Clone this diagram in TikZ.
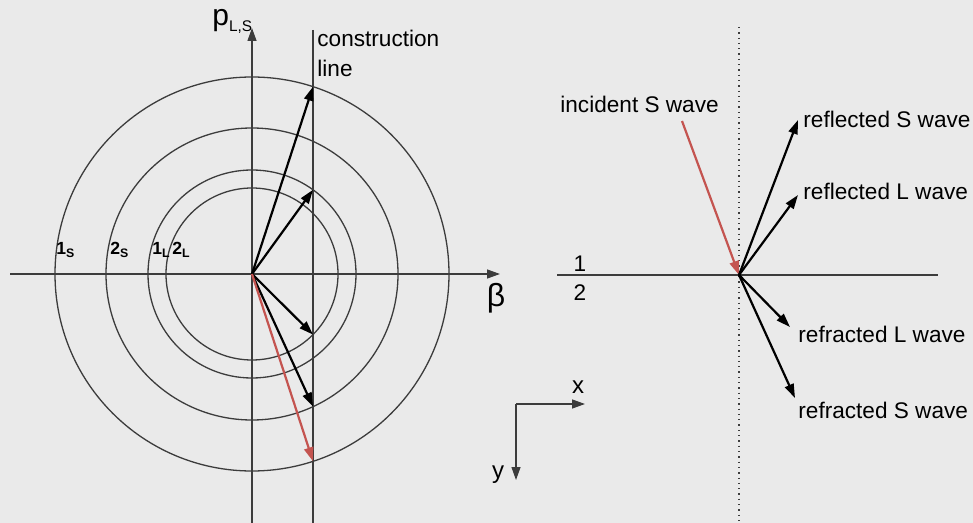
\documentclass[tikz,border=0pt]{standalone}
\usepackage{fontspec}
\setmainfont{Liberation Sans}
\usetikzlibrary{arrows.meta, positioning}
\definecolor{sfondo}{RGB}{234,234,234}
\definecolor{rosso}{RGB}{196,84,80}
\definecolor{grigio}{RGB}{60,60,60}

\begin{document}
\begin{tikzpicture}
        [x=0.5pt, y=-0.5pt,
        asse/.style={grigio, line width=0.65pt},
        punta/.style={-{Triangle[length=6.5pt,width=4.5pt]}},
        onda/.style={-{Triangle[length=7pt,width=4.6pt]}, line width=1.1pt},
        etichetta/.style={inner sep=0pt, font=\fontsize{11.3}{15}\selectfont},
        numero/.style={inner sep=0pt, anchor=base west, font=\bfseries\fontsize{8.8}{10}\selectfont}]
        %sfondo
            \fill[sfondo] (0,0) rectangle (973,523);
            \useasboundingbox (0,0) rectangle (973,523);
        %disegno cerchi
            \coordinate (O) at (252,274);
            \foreach \r in {197,146,104,86}
                \draw[asse] (O) circle (\r);
        %disegno assi
            \draw[asse, punta] (10,274) -- (500,274);
            \draw[asse, punta] (252,523) -- (252,28);
            \node (beta) at (496,298) {\fontsize{16}{16}\selectfont β};
            \node (p) [anchor=base west, inner sep=0pt] at (212,25.6)
                {{\fontsize{15}{15}\selectfont p}\raisebox{-3pt}{\fontsize{7.7}{8}\selectfont L,S}};
        %linea di costruzione
            \draw[asse] (313,30) -- (313,523);
            \node (costr) [etichetta, anchor=north west, align=left] at (317,30) {construction\\line};
        %label cerchi
            \node (n1S) [numero] at (56,255) {1\textsubscript{S}};
            \node (n2S) [numero] at (110,255) {2\textsubscript{S}};
            \node (n1L) [numero] at (152,255) {1\textsubscript{L}};
            \node (n2L) [numero] at (172,255) {2\textsubscript{L}};
        %vettori d'onda
            \coordinate (rS1) at (313,86.7);
            \coordinate (rL1) at (313,189.8);
            \coordinate (tL1) at (313,334.6);
            \coordinate (tS1) at (313,406.6);
            \coordinate (iS1) at (313,461.3);
            \draw[onda] (O) -- (rS1);
            \draw[onda] (O) -- (rL1);
            \draw[onda] (O) -- (tL1);
            \draw[onda] (O) -- (tS1);
            \draw[onda, rosso] (O) -- (iS1);

        %interfaccia
            \coordinate (P) at (739,275);
            \draw[asse] (557,275) -- (938,275);
            \draw[asse, dotted] (739,27) -- (739,523);
            \node (m1) [etichetta, anchor=base] at (580,272) {1};
            \node (m2) [etichetta, anchor=base] at (580,300) {2};
        %onde
            \coordinate (iS2) at (682,121);
            \coordinate (rS2) at (798,120);
            \coordinate (rL2) at (798,195);
            \coordinate (tL2) at (790,327);
            \coordinate (tS2) at (795,398);
            \draw[onda, rosso] (iS2) -- (P);
            \draw[onda] (P) -- (rS2);
            \draw[onda] (P) -- (rL2);
            \draw[onda] (P) -- (tL2);
            \draw[onda] (P) -- (tS2);
        %label onde
            \node (liS) [etichetta, anchor=base west] at (560,113) {incident S wave};
            \node (lrS) [etichetta, anchor=base west] at (803,127.5) {reflected S wave};
            \node (lrL) [etichetta, anchor=base west] at (803,200) {reflected L wave};
            \node (ltL) [etichetta, anchor=base west] at (798,343) {refracted L wave};
            \node (ltS) [etichetta, anchor=base west] at (798,418) {refracted S wave};
        %sistema x y
            \coordinate (xy) at (516,404);
            \coordinate (xx) at (585,404);
            \coordinate (yy) at (516,480);
            \draw[asse, punta] (xy) -- (xx);
            \draw[asse, punta] (xy) -- (yy);
            \node (lx) [etichetta, anchor=base] at (578,393) {\fontsize{12}{12}\selectfont x};
            \node (ly) [etichetta, anchor=base] at (498,478) {\fontsize{12}{12}\selectfont y};
    \end{tikzpicture}
\end{document}
